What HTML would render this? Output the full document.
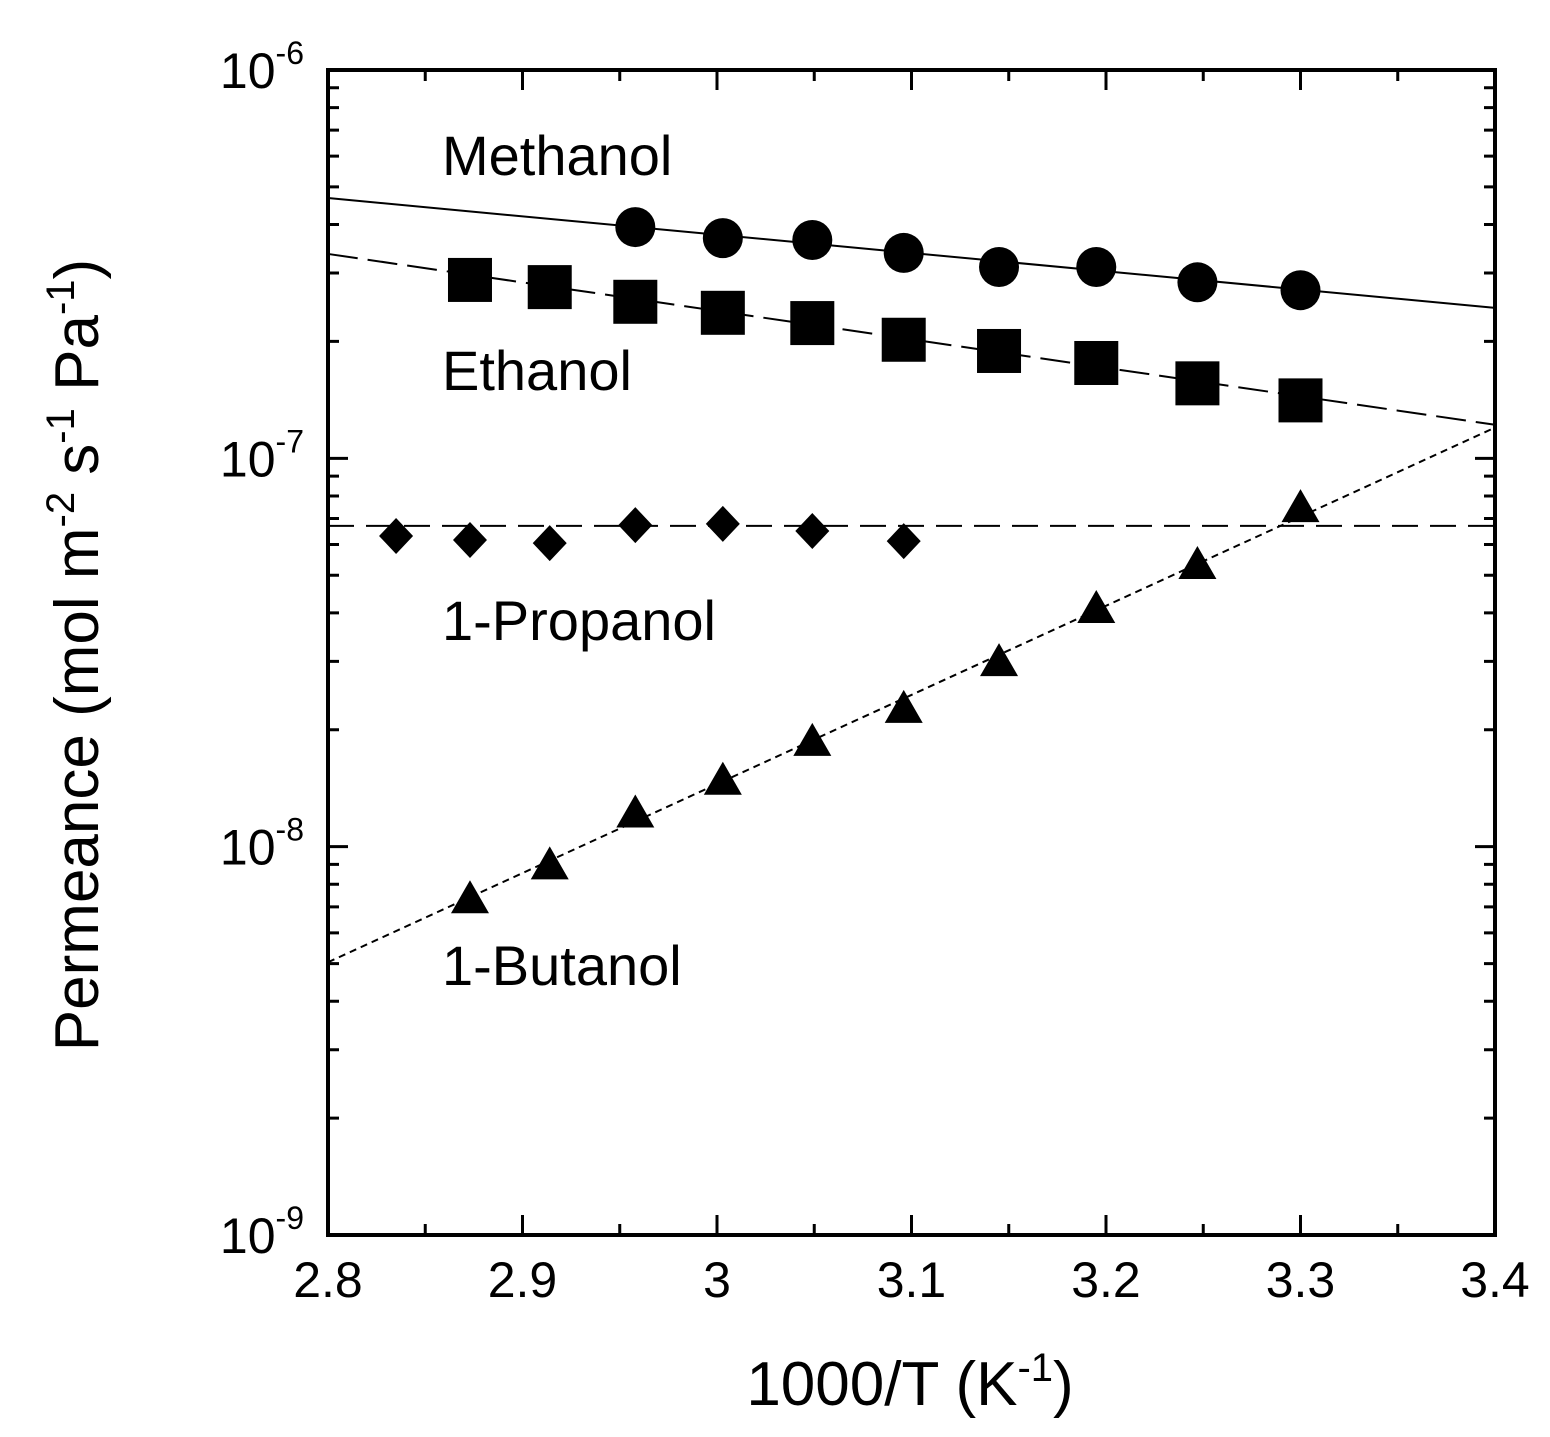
<!DOCTYPE html>
<html><head><meta charset="utf-8"><style>
body{margin:0;background:#fff;}
svg{display:block;font-family:"Liberation Sans",Arial,sans-serif;}
</style></head><body>
<svg id="chart" width="1550" height="1437" viewBox="0 0 1550 1437" xmlns="http://www.w3.org/2000/svg">
<g id="axes"></g>
<g id="series"></g>
<text x="910" y="1405" font-size="62" text-anchor="middle">1000/T (K<tspan font-size="40" dy="-24">-1</tspan><tspan dy="24">)</tspan></text>
<text transform="translate(98,655) rotate(-90)" font-size="62" text-anchor="middle">Permeance (mol m<tspan font-size="40" dy="-24">-2</tspan><tspan dy="24"> s</tspan><tspan font-size="40" dy="-24">-1</tspan><tspan dy="24"> Pa</tspan><tspan font-size="40" dy="-24">-1</tspan><tspan dy="24">)</tspan></text>
<text x="442" y="175" font-size="56">Methanol</text>
<text x="442" y="390" font-size="56">Ethanol</text>
<text x="442" y="640" font-size="56">1-Propanol</text>
<text x="442" y="985" font-size="56">1-Butanol</text>
</svg>
<script>
const xTicks=[2.8,2.9,3.0,3.1,3.2,3.3,3.4];
const xTickLabels=["2.8","2.9","3","3.1","3.2","3.3","3.4"];
const yDecades=[-6,-7,-8,-9];
const methX=[2.958,3.003,3.049,3.096,3.145,3.195,3.247,3.300];
const methY=[3.94e-7,3.69e-7,3.65e-7,3.38e-7,3.11e-7,3.11e-7,2.84e-7,2.71e-7];
const methFitX=[2.8,3.4];
const methFitY=[4.68e-7,2.44e-7];
const ethX=[2.873,2.914,2.958,3.003,3.049,3.096,3.145,3.195,3.247,3.300];
const ethY=[2.88e-7,2.76e-7,2.53e-7,2.37e-7,2.23e-7,2.02e-7,1.89e-7,1.76e-7,1.56e-7,1.41e-7];
const ethFitX=[2.8,3.4];
const ethFitY=[3.36e-7,1.22e-7];
const propX=[2.835,2.873,2.914,2.958,3.003,3.049,3.096];
const propY=[6.31e-8,6.16e-8,6.05e-8,6.73e-8,6.78e-8,6.50e-8,6.12e-8];
const propFitX=[2.8,3.4];
const propFitY=[6.7e-8,6.7e-8];
const butX=[2.873,2.914,2.958,3.003,3.049,3.096,3.145,3.195,3.247,3.300];
const butY=[7.28e-9,8.9e-9,1.21e-8,1.47e-8,1.85e-8,2.25e-8,2.97e-8,4.07e-8,5.28e-8,7.40e-8];
const butFitX=[2.8,3.4];
const butFitY=[5.04e-9,1.20e-7];

const L=328,R=1495,T=70,B=1235;
const NS="http://www.w3.org/2000/svg";
function sx(v){return L+(v-2.8)/0.6*(R-L);}
function sy(v){return T+(-6-Math.log10(v))/3*(B-T);}
function mk(tag,attrs,parent){const e=document.createElementNS(NS,tag);for(const k in attrs)e.setAttribute(k,attrs[k]);parent.appendChild(e);return e;}
const axes=document.getElementById('axes'),ser=document.getElementById('series');
let fr=mk('rect',{x:L,y:T,width:R-L,height:B-T,fill:'none',stroke:'#000','stroke-width':4},axes);


for(let i=0;i<=12;i++){const v=2.8+i*0.05;const x=sx(v);const len=i%2==0?20:11;
 let t=mk('path',{d:`M${x},${B}V${B-len}M${x},${T}V${T+len}`,stroke:'#000','stroke-width':3},axes);
 
 }
xTicks.forEach((v,i)=>{let t=mk('text',{x:sx(v),y:B+62,'font-size':50,'text-anchor':'middle'},axes);t.textContent=xTickLabels[i];
 
 });
yDecades.forEach(d=>{const y=sy(Math.pow(10,d));
 let t=mk('path',{d:`M${L},${y}H${L+20}M${R},${y}H${R-20}`,stroke:'#000','stroke-width':3},axes);
 
 
 let tx=mk('text',{x:L-24,y:y+18,'font-size':50,'text-anchor':'end'},axes);
 tx.innerHTML='10<tspan font-size="32" dy="-24">'+d+'</tspan>';
 
 
 if(d>-9)for(let m=2;m<=9;m++){const yy=sy(m*Math.pow(10,d-1));
  let mt=mk('path',{d:`M${L},${yy}H${L+11}M${R},${yy}H${R-11}`,stroke:'#000','stroke-width':3},axes);
  
  }
});
function fit(xs,ys,dash,name){let l=mk('line',{x1:sx(xs[0]),y1:sy(ys[0]),x2:sx(xs[1]),y2:sy(ys[1]),stroke:'#000','stroke-width':2,'stroke-dasharray':dash},ser);
 
 }
fit(methFitX,methFitY,'none','methanol-fit-line');
fit(ethFitX,ethFitY,'30,10','ethanol-fit-line');
fit(propFitX,propFitY,'26,12','propanol-fit-line');
fit(butFitX,butFitY,'7,5','butanol-fit-line');
methX.forEach((v,i)=>{let c=mk('circle',{cx:sx(v),cy:sy(methY[i]),r:20,fill:'#000'},ser);
 
 });
ethX.forEach((v,i)=>{const x=sx(v),y=sy(ethY[i]);let c=mk('rect',{x:x-22,y:y-22,width:44,height:44,fill:'#000'},ser);
 
 });
propX.forEach((v,i)=>{const x=sx(v),y=sy(propY[i]);let c=mk('path',{d:`M${x},${y-18}L${x+17},${y}L${x},${y+18}L${x-17},${y}Z`,fill:'#000'},ser);
 
 });
butX.forEach((v,i)=>{const x=sx(v),y=sy(butY[i]);let c=mk('path',{d:`M${x},${y-20}L${x+19},${y+13}L${x-19},${y+13}Z`,fill:'#000'},ser);
 
 });
</script>
</body></html>
